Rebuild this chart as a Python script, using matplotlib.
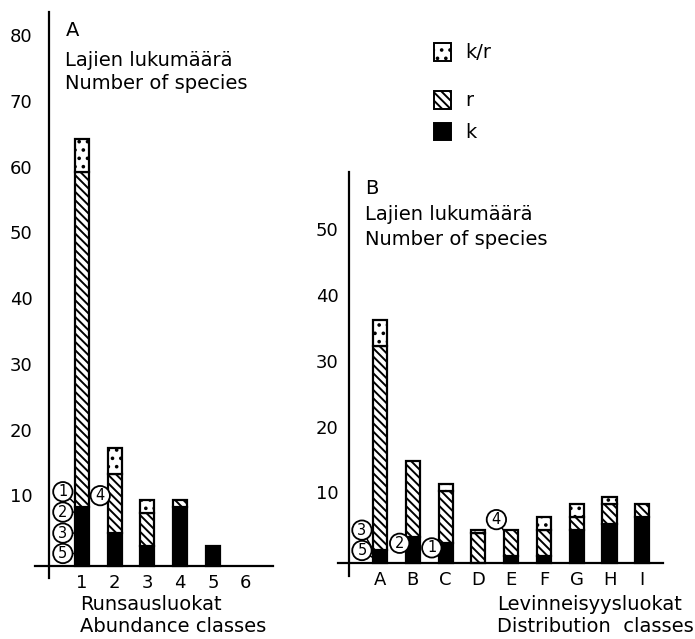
import matplotlib
matplotlib.use("Agg")
import matplotlib.pyplot as plt
import numpy as np
from matplotlib.patches import Rectangle
from matplotlib.transforms import ScaledTranslation

# ---------------- data ----------------
abund_classes = ["1", "2", "3", "4", "5", "6"]
abund_k = [9, 5, 3, 9, 3, 0]
abund_r = [51, 9, 5, 1, 0, 0]
abund_kr = [5, 4, 2, 0, 0, 0]

dist_classes = ["A", "B", "C", "D", "E", "F", "G", "H", "I"]
dist_k = [2, 4, 3, 0, 1, 1, 5, 6, 7]
dist_r = [31, 11.5, 8, 4.5, 4, 4, 2, 3, 2]
dist_kr = [4, 0, 1, 0.5, 0, 2, 2, 1, 0]

yticks_a = [10, 20, 30, 40, 50, 60, 70, 80]
yticks_b = [10, 20, 30, 40, 50]

plt.rcParams['hatch.linewidth'] = 1.4
plt.rcParams['font.family'] = ['DejaVu Sans']

W, H = 695, 639
fig = plt.figure(figsize=(W / 100, H / 100), dpi=100)


def ax_at(x0, x1, ytop, ybot):
    return fig.add_axes([x0 / W, 1 - ybot / H, (x1 - x0) / W, (ybot - ytop) / H])


FS = 13
FT = 14
BW = 0.43
LW = 1.6


def style_axes(ax, xlim, ylim, yaxis_x, yticks, ypad):
    ax.set_xlim(*xlim)
    ax.set_ylim(*ylim)
    ax.patch.set_alpha(0)
    for s in ["top", "right"]:
        ax.spines[s].set_visible(False)
    ax.spines["left"].set_position(("data", yaxis_x))
    ax.spines["bottom"].set_position(("data", 0))
    ax.spines["left"].set_linewidth(LW)
    ax.spines["bottom"].set_linewidth(LW)
    ax.tick_params(axis="both", length=0, labelsize=FS)
    ax.tick_params(axis="y", pad=ypad)
    ax.tick_params(axis="x", pad=6)
    ax.set_yticks(yticks)
    off = ScaledTranslation(0, 5 / 100, fig.dpi_scale_trans)
    for lab in ax.get_yticklabels():
        lab.set_transform(lab.get_transform() + off)


def stacked(ax, x, k, r, kr):
    k = np.array(k, float)
    r = np.array(r, float)
    kr = np.array(kr, float)
    m = k > 0
    ax.bar(x[m], k[m], width=BW, color="black", edgecolor="black", linewidth=LW)
    m = r > 0
    ax.bar(x[m], r[m], bottom=k[m], width=BW, color="white", edgecolor="black",
           hatch="\\\\\\\\", linewidth=LW)
    m = kr > 0
    ax.bar(x[m], kr[m], bottom=(k + r)[m], width=BW, color="white", edgecolor="black",
           hatch="..", linewidth=LW)


def circ(ax, txt, xy, xytext=None):
    bb = dict(boxstyle="circle,pad=0.15", fc="white", ec="black", lw=1.3)
    if xytext is None:
        ax.text(xy[0], xy[1], txt, fontsize=10.5, ha="center", va="center", bbox=bb, zorder=5)
    else:
        ax.annotate(txt, xy=xy, xytext=xytext, fontsize=10.5, ha="center", va="center",
                    bbox=bb, zorder=5,
                    arrowprops=dict(arrowstyle="-", lw=1.1, color="black", shrinkA=0, shrinkB=0))


# ---------------- Panel A ----------------
axA = ax_at(35, 273, 12, 578)
style_axes(axA, (-0.43, 6.83), (-1.83, 84.3), 0.0, yticks_a, 12)
xa = np.arange(1, len(abund_classes) + 1)
stacked(axA, xa, abund_k, abund_r, abund_kr)
axA.set_xticks(xa)
axA.set_xticklabels(abund_classes)

axA.text(0.5, 83, "A", fontsize=FT, va="top", ha="left")
axA.text(0.5, 78.3, "Lajien lukumäärä", fontsize=FT, va="top", ha="left")
axA.text(0.5, 74.8, "Number of species", fontsize=FT, va="top", ha="left")

circ(axA, "1", (0.79, 9.5), (0.42, 11.3))
circ(axA, "2", (0.79, 8.2), (0.42, 8.2))
circ(axA, "3", (0.79, 5.0), (0.42, 5.0))
circ(axA, "5", (0.79, 1.9), (0.42, 1.9))
circ(axA, "4", (1.79, 10.2), (1.56, 10.7))

fig.text(80 / W, 1 - 605 / H, "Runsausluokat", fontsize=FT, va="center", ha="left")
fig.text(80 / W, 1 - 627 / H, "Abundance classes", fontsize=FT, va="center", ha="left")

# ---------------- Panel B ----------------
axB = ax_at(338, 663, 172, 576)
style_axes(axB, (-0.28, 9.63), (-1.98, 59.5), 0.07, yticks_b, 8)
xb = np.arange(1, len(dist_classes) + 1)
stacked(axB, xb, dist_k, dist_r, dist_kr)
axB.set_xticks(xb)
axB.set_xticklabels(dist_classes)

axB.text(0.55, 58.5, "B", fontsize=FT, va="top", ha="left")
axB.text(0.55, 54.5, "Lajien lukumäärä", fontsize=FT, va="top", ha="left")
axB.text(0.55, 50.7, "Number of species", fontsize=FT, va="top", ha="left")

circ(axB, "3", (0.79, 2.0), (0.45, 5.0))
circ(axB, "5", (0.79, 0.8), (0.45, 1.9))
circ(axB, "2", (1.79, 3.0), (1.60, 3.0))
circ(axB, "1", (2.79, 2.0), (2.58, 2.3))
circ(axB, "4", (4.79, 4.8), (4.55, 6.6))

fig.text(497 / W, 1 - 605 / H, "Levinneisyysluokat", fontsize=FT, va="center", ha="left")
fig.text(497 / W, 1 - 627 / H, "Distribution  classes", fontsize=FT, va="center", ha="left")

# ---------------- Legend ----------------
leg = [("k/r", 52, "white", ".."), ("r", 100, "white", "\\\\\\\\"), ("k", 132, "black", None)]
for lab, yc, fc, hatch in leg:
    rect = Rectangle((434 / W, 1 - (yc + 8.5) / H), 17 / W, 17 / H, transform=fig.transFigure,
                     facecolor=fc, edgecolor="black", hatch=hatch, linewidth=1.4)
    fig.add_artist(rect)
    fig.text(465 / W, 1 - yc / H, lab, fontsize=FT, va="center", ha="left")

fig.savefig("out.png", dpi=100)
